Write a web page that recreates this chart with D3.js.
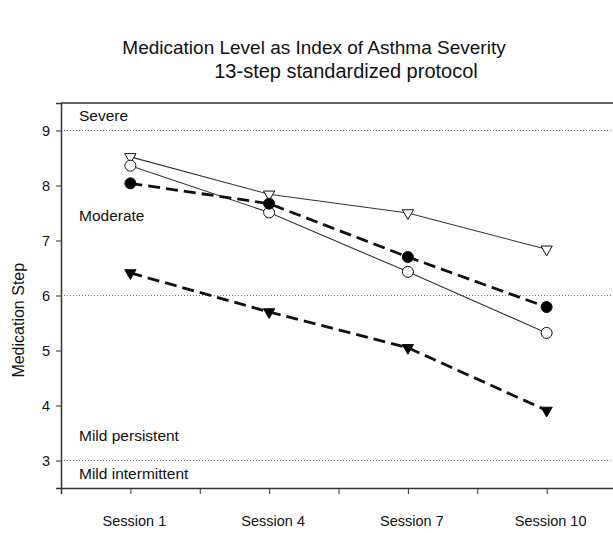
<!DOCTYPE html>
<html>
<head>
<meta charset="utf-8">
<script src="https://cdn.jsdelivr.net/npm/d3@7"></script>
<style>
  html, body { margin: 0; padding: 0; background: #fff; }
  svg { display: block; font-family: Arial, "Liberation Sans", sans-serif; }
</style>
</head>
<body>
<svg id="chart" width="613" height="533"></svg>
<script>
// Sessions on the x axis (positions 1..4)
const sessions = ["Session 1", "Session 4", "Session 7", "Session 10"];
const sessionPos = [1, 2, 3, 4];

// Medication step per group at each session
const openTriangle = [8.52, 7.84, 7.50, 6.84];
const openCircle   = [8.36, 7.51, 6.43, 5.32];
const filledCircle = [8.04, 7.67, 6.70, 5.79];
const filledTriangle = [6.41, 5.70, 5.05, 3.91];

// Y tick values and severity boundaries
const yTicks = [3, 4, 5, 6, 7, 8, 9];
const boundaries = [9, 6, 3];
const zoneLabels = [
  { text: "Severe", y: 9.17 },
  { text: "Moderate", y: 7.35 },
  { text: "Mild persistent", y: 3.35 },
  { text: "Mild intermittent", y: 2.66 }
];

const svg = d3.select("#chart");
const plotLeft = 61, plotRight = 616, plotTop = 103, plotBottom = 488;

const x = d3.scaleLinear().domain([0.5, 4.5]).range([plotLeft, plotRight]);
const y = d3.scaleLinear().domain([2.5, 9.5]).range([plotBottom, plotTop]);

// Title
svg.append("text").attr("x", 314).attr("y", 54).attr("text-anchor", "middle")
  .attr("font-size", 19).attr("fill", "#111")
  .text("Medication Level as Index of Asthma Severity");
svg.append("text").attr("x", 346).attr("y", 78).attr("text-anchor", "middle")
  .attr("font-size", 20).attr("fill", "#111")
  .text("13-step standardized protocol");

// Severity boundary lines
svg.selectAll("line.bound").data(boundaries).join("line")
  .attr("class", "bound")
  .attr("x1", plotLeft).attr("x2", 613)
  .attr("y1", d => y(d)).attr("y2", d => y(d))
  .attr("stroke", "#777").attr("stroke-width", 1)
  .attr("stroke-dasharray", "1,2");

// Top frame line
svg.append("line").attr("x1", plotLeft).attr("x2", 613)
  .attr("y1", plotTop).attr("y2", plotTop)
  .attr("stroke", "#333").attr("stroke-width", 1.5);

// Axes
const yAxis = d3.axisLeft(y).tickValues(yTicks).tickSize(5).tickPadding(6).tickFormat(d3.format("d"));
const gy = svg.append("g").attr("transform", `translate(${plotLeft},0)`).call(yAxis);
gy.select(".domain").attr("stroke", "#333").attr("stroke-width", 1.5);
gy.selectAll(".tick line").attr("stroke", "#333");
gy.selectAll(".tick text").attr("font-size", 14.5).attr("fill", "#111").attr("font-family", "Arial, 'Liberation Sans', sans-serif");

const xAxis = d3.axisBottom(x).tickValues([0.5, 1, 1.5, 2, 2.5, 3, 3.5, 4]).tickSize(6).tickFormat("");
const gx = svg.append("g").attr("transform", `translate(0,${plotBottom})`).call(xAxis);
gx.select(".domain").attr("stroke", "#333").attr("stroke-width", 1.5);
gx.selectAll(".tick line").attr("stroke", "#333");

svg.selectAll("text.xlab").data(sessions).join("text")
  .attr("class", "xlab")
  .attr("x", (d, i) => x(sessionPos[i]) + 4).attr("y", 526)
  .attr("text-anchor", "middle").attr("font-size", 14.5).attr("fill", "#111")
  .text(d => d);

// Y axis title
svg.append("text").attr("transform", `translate(24,${y(5.55)}) rotate(-90)`)
  .attr("text-anchor", "middle").attr("font-size", 16).attr("fill", "#111")
  .text("Medication Step");

// Zone labels
svg.selectAll("text.zone").data(zoneLabels).join("text")
  .attr("class", "zone")
  .attr("x", 79).attr("y", d => y(d.y))
  .attr("font-size", 15.5).attr("fill", "#111")
  .text(d => d.text);

// Series
const series = [
  { values: openTriangle, dashed: false, marker: "tri", fill: "#fff" },
  { values: openCircle, dashed: false, marker: "circle", fill: "#fff" },
  { values: filledCircle, dashed: true, marker: "circle", fill: "#000" },
  { values: filledTriangle, dashed: true, marker: "tri", fill: "#000" }
];

const line = d3.line().x((d, i) => x(sessionPos[i])).y(d => y(d));

series.forEach(s => {
  svg.append("path").datum(s.values)
    .attr("d", line)
    .attr("fill", "none")
    .attr("stroke", s.dashed ? "#111" : "#333")
    .attr("stroke-width", s.dashed ? 2.8 : 1.1)
    .attr("stroke-dasharray", s.dashed ? "12,6" : null);
});

series.forEach(s => {
  const g = svg.append("g");
  if (s.marker === "circle") {
    g.selectAll("circle").data(s.values).join("circle")
      .attr("cx", (d, i) => x(sessionPos[i])).attr("cy", d => y(d))
      .attr("r", 5.5).attr("fill", s.fill).attr("stroke", "#111").attr("stroke-width", 1);
  } else {
    const tri = d3.symbol().type(d3.symbolTriangle).size(55);
    g.selectAll("path").data(s.values).join("path")
      .attr("d", tri)
      .attr("transform", (d, i) => `translate(${x(sessionPos[i])},${y(d)}) rotate(180)`)
      .attr("fill", s.fill).attr("stroke", "#111").attr("stroke-width", 1);
  }
});
</script>
</body>
</html>
